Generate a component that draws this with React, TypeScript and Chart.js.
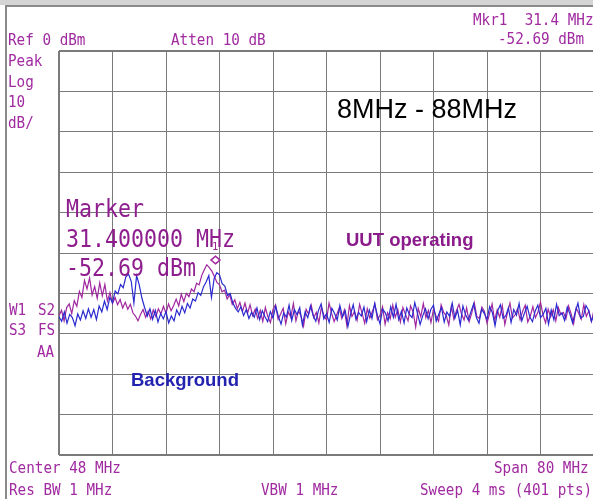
import React, { useEffect, useRef } from "react";
import { Chart, registerables } from "chart.js";

Chart.register(...registerables);

// ---- sweep settings ----
const START_MHZ = 8;
const STOP_MHZ = 88;
const DIV_MHZ = 8;
const REF_DBM = 0;
const BOTTOM_DBM = -100;
const DIV_DB = 10;

// ---- marker ----
const markerFreq = 31.4;
const markerLevel = -52.69;

// ---- UUT operating trace (magenta), dBm ----
const uutTrace = [
  -65.5, -64.2, -66.8, -63.5, -62.6, -65.0, -61.8, -63.2, -59.5, -61.0,
  -56.8, -58.9, -56.2, -60.4, -58.3, -61.2, -57.4, -60.6, -57.8, -61.9,
  -59.8, -62.5, -61.0, -62.8, -61.5, -63.6, -62.2, -63.9, -62.7, -64.8,
  -65.6, -66.8, -65.2, -64.0, -65.9, -64.4, -66.3, -64.1, -65.7, -63.8,
  -65.1, -63.2, -64.9, -62.6, -64.3, -63.0, -61.4, -63.1, -60.2, -62.0,
  -60.0, -60.8, -58.9, -59.6, -57.5, -57.9, -55.6, -54.2, -52.9, -53.6,
  -54.5, -55.8, -57.3, -57.9, -59.6, -59.2, -61.4, -60.3, -62.7, -61.6,
  -63.8, -62.2, -64.5, -62.4, -64.9, -62.8, -65.5, -63.9, -66.2,
  -64.2, -66.9, -63.5, -65.8, -67.2, -64.0, -62.8, -66.4, -65.1, -63.7,
  -67.5, -64.6, -65.9, -62.5, -66.8, -64.3, -65.6, -68.1, -63.9, -65.2,
  -62.9, -66.0, -64.7, -67.3, -63.4, -65.5, -66.6, -62.4, -64.9, -67.0,
  -65.3, -63.6, -66.2, -64.1, -68.0, -63.0, -65.7, -64.4, -66.7, -62.7,
  -65.0, -67.4, -63.8, -66.1, -64.5, -62.6, -66.5, -65.4, -63.3, -67.6,
  -64.8, -66.3, -62.9, -65.9, -64.0, -67.1, -63.5, -65.2, -66.8, -63.1,
  -64.6, -68.3, -63.7, -65.8, -62.5, -66.0, -64.2, -67.2, -63.9, -65.6,
  -66.9, -62.8, -64.7, -65.5, -67.8, -63.2, -66.4, -64.3, -62.7, -65.1,
  -66.6, -63.6, -67.0, -64.9, -62.3, -65.7, -66.2, -63.4, -64.5, -67.4,
  -65.0, -62.6, -66.7, -64.1, -65.9, -63.0, -67.7, -64.8, -62.4, -66.1,
  -65.3, -63.8, -66.5, -64.4, -62.9, -67.1, -65.6, -63.3, -66.0, -64.6,
  -62.2, -65.4, -67.3, -63.9, -65.8, -64.0, -66.8, -63.5, -65.2, -64.7,
  -66.3, -63.1, -65.0, -67.5, -63.6, -64.9, -66.4, -62.8, -65.7, -64.3,
  -66.9, -64.1,
];

// ---- Background trace (blue), dBm ----
const backgroundTrace = [
  -65.8, -66.9, -64.6, -67.4, -65.2, -66.0, -68.0, -65.1, -66.6, -64.3,
  -66.2, -63.8, -65.9, -64.0, -66.5, -63.1, -64.6, -61.9, -64.0, -61.0,
  -62.3, -59.4, -60.1, -57.8, -58.6, -55.9, -55.2, -57.0, -62.4, -55.6,
  -57.9, -61.2, -63.5, -65.6, -63.8, -66.4, -64.2, -67.1, -65.0, -66.3,
  -64.5, -67.3, -65.6, -66.8, -64.1, -65.4, -63.2, -64.8, -62.5, -63.6,
  -61.4, -61.9, -59.8, -60.5, -58.4, -57.2, -55.6, -61.0, -56.3, -54.9,
  -55.4, -57.6, -58.2, -60.5, -60.0, -62.4, -63.7, -64.6, -63.3, -65.5,
  -64.0, -66.2, -64.7, -65.9, -63.6, -66.5, -64.3, -65.8, -67.0,
  -64.5, -66.1, -63.2, -65.7, -67.6, -64.8, -65.9, -62.9, -66.7, -64.0,
  -65.3, -63.5, -67.9, -64.6, -66.0, -63.1, -65.5, -66.9, -64.2, -62.6,
  -66.3, -65.0, -67.2, -63.7, -64.9, -66.6, -63.0, -65.8, -64.3, -68.2,
  -65.1, -62.8, -66.4, -64.7, -65.6, -63.4, -67.0, -64.1, -66.2, -62.5,
  -65.4, -67.5, -63.9, -64.8, -66.8, -63.3, -65.9, -62.7, -66.5, -64.4,
  -67.3, -63.6, -65.2, -66.0, -62.3, -64.9, -67.7, -65.5, -63.8, -66.3,
  -64.0, -62.9, -66.9, -65.1, -63.5, -67.1, -64.6, -65.7, -62.4, -66.1,
  -64.2, -67.8, -63.1, -65.3, -66.6, -64.5, -62.6, -65.9, -67.4, -63.9,
  -65.0, -66.4, -63.3, -64.7, -68.0, -64.3, -62.8, -66.2, -65.6, -63.6,
  -67.2, -64.0, -65.4, -62.5, -66.8, -64.9, -63.2, -65.8, -67.0, -64.4,
  -62.9, -66.0, -65.2, -63.7, -67.6, -64.1, -66.5, -62.7, -65.5, -64.8,
  -66.7, -63.4, -65.1, -67.3, -64.6, -62.4, -66.1, -65.7, -63.0, -64.2,
  -66.9, -65.3,
];

const MAG = "#a0269e";
const BLUE = "#2a2ad0";
const TXT = "#a02aa0";
const BIG = "#8e1e8e";
const GRID = "#7a7a7a";
const MONO = "'DejaVu Sans Mono', monospace";
const SANS = "'Liberation Sans', Arial, sans-serif";

const W = 593;
const H = 499;
const CANVAS_W = 600;

function toPoints(vals: number[]) {
  const step = (STOP_MHZ - START_MHZ) / (vals.length - 1);
  return vals.map((v, i) => ({ x: START_MHZ + i * step, y: v }));
}

const markerPlugin = {
  id: "markerDiamond",
  afterDatasetsDraw(chart: any) {
    const { ctx, scales } = chart;
    const px = scales.x.getPixelForValue(markerFreq);
    const py = scales.y.getPixelForValue(markerLevel);
    const hx = 4.5;
    const hy = 3.8;
    ctx.save();
    ctx.strokeStyle = MAG;
    ctx.lineWidth = 1.5;
    ctx.beginPath();
    ctx.moveTo(px, py);
    ctx.lineTo(px + hx, py - hy);
    ctx.lineTo(px, py - 2 * hy);
    ctx.lineTo(px - hx, py - hy);
    ctx.closePath();
    ctx.stroke();
    ctx.restore();
  },
};

type TxtProps = {
  x: number;
  y: number;
  text: string;
  size: number;
  family?: string;
  color?: string;
  weight?: number;
  sy?: number;
  right?: boolean;
};

function Txt({ x, y, text, size, family = MONO, color = TXT, weight = 400, sy = 1, right = false }: TxtProps) {
  const asc = 0.846 * size;
  const style: React.CSSProperties = {
    position: "absolute",
    top: y - asc,
    fontSize: size,
    lineHeight: `${size}px`,
    fontFamily: family,
    color,
    fontWeight: weight,
    whiteSpace: "pre",
    transform: `scaleY(${sy})`,
    transformOrigin: `0 ${asc}px`,
  };
  if (right) style.right = W - x;
  else style.left = x;
  return <div style={style}>{text}</div>;
}

export default function App() {
  const ref = useRef<HTMLCanvasElement | null>(null);

  useEffect(() => {
    if (!ref.current) return;
    const edge = (ctx: any) => {
      const n = ctx.scale.ticks.length;
      return ctx.index === 0 || ctx.index === n - 1 ? 2 : 1;
    };
    const chart = new Chart(ref.current, {
      type: "line",
      data: {
        datasets: [
          {
            label: "Background",
            data: toPoints(backgroundTrace),
            borderColor: BLUE,
            borderWidth: 1.2,
            pointRadius: 0,
            tension: 0,
          },
          {
            label: "UUT operating",
            data: toPoints(uutTrace),
            borderColor: MAG,
            borderWidth: 1.2,
            pointRadius: 0,
            tension: 0,
          },
        ],
      },
      options: {
        responsive: false,
        animation: false,
        devicePixelRatio: 1,
        parsing: false as any,
        layout: { padding: { left: 59, top: 51, right: CANVAS_W - 594, bottom: H - 455 } },
        plugins: { legend: { display: false }, tooltip: { enabled: false } },
        scales: {
          x: {
            type: "linear",
            min: START_MHZ,
            max: STOP_MHZ,
            ticks: { display: false, stepSize: DIV_MHZ },
            grid: { color: GRID, lineWidth: edge, drawTicks: false },
            border: { display: false },
          },
          y: {
            type: "linear",
            min: BOTTOM_DBM,
            max: REF_DBM,
            ticks: { display: false, stepSize: DIV_DB },
            grid: { color: GRID, lineWidth: edge, drawTicks: false },
            border: { display: false },
          },
        },
      },
      plugins: [markerPlugin],
    });
    return () => chart.destroy();
  }, []);

  return (
    <div
      style={{
        position: "fixed",
        left: 0,
        top: 0,
        width: W,
        height: H,
        overflow: "hidden",
        background: "#ffffff",
      }}
    >
      <div style={{ position: "absolute", left: 0, top: 0, width: W, height: 5, background: "#d4d4d4" }} />
      <div style={{ position: "absolute", left: 5, top: 5, width: W - 5, height: 2, background: "#8a8a8a" }} />
      <div style={{ position: "absolute", left: 5, top: 5, width: 2, height: H - 5, background: "#8a8a8a" }} />
      <canvas
        ref={ref}
        width={CANVAS_W}
        height={H}
        style={{ position: "absolute", left: 0, top: 0, width: CANVAS_W, height: H }}
      />

      <Txt x={473} y={25} text="Mkr1  31.4 MHz" size={14.3} sy={1.15} />
      <Txt x={498} y={44} text="-52.69 dBm" size={14.3} sy={1.15} />
      <Txt x={8} y={45} text="Ref 0 dBm" size={14.3} sy={1.15} />
      <Txt x={171} y={45} text="Atten 10 dB" size={14.3} sy={1.15} />
      <Txt x={8} y={66} text="Peak" size={14.3} sy={1.15} />
      <Txt x={8} y={87} text="Log" size={14.3} sy={1.15} />
      <Txt x={8} y={107} text="10" size={14.3} sy={1.15} />
      <Txt x={8} y={128} text="dB/" size={14.3} sy={1.15} />
      <Txt x={9} y={315} text="W1" size={14.3} sy={1.15} />
      <Txt x={38} y={315} text="S2" size={14.3} sy={1.15} />
      <Txt x={9} y={335} text="S3" size={14.3} sy={1.15} />
      <Txt x={38} y={335} text="FS" size={14.3} sy={1.15} />
      <Txt x={37} y={357} text="AA" size={14.3} sy={1.15} />
      <Txt x={9} y={473} text="Center 48 MHz" size={14.3} sy={1.15} />
      <Txt x={494} y={473} text="Span 80 MHz" size={14.3} sy={1.15} />
      <Txt x={9} y={495} text="Res BW 1 MHz" size={14.3} sy={1.15} />
      <Txt x={261} y={495} text="VBW 1 MHz" size={14.3} sy={1.15} />
      <Txt x={420} y={495} text="Sweep 4 ms (401 pts)" size={14.3} sy={1.15} />

      <Txt x={66} y={217} text="Marker" size={21.6} color={BIG} sy={1.15} />
      <Txt x={66} y={247} text="31.400000 MHz" size={21.6} color={BIG} sy={1.15} />
      <Txt x={66} y={276} text="-52.69 dBm" size={21.6} color={BIG} sy={1.15} />
      <Txt x={212} y={250} text="1" size={10.5} color={MAG} />

      <Txt x={337} y={119} text="8MHz - 88MHz" size={27} family={SANS} color="#000000" />
      <Txt x={346} y={247} text="UUT operating" size={18.5} family={SANS} weight={700} color="#8b1a8b" />
      <Txt x={131} y={387} text="Background" size={18.5} family={SANS} weight={700} color="#2323b0" />
    </div>
  );
}
